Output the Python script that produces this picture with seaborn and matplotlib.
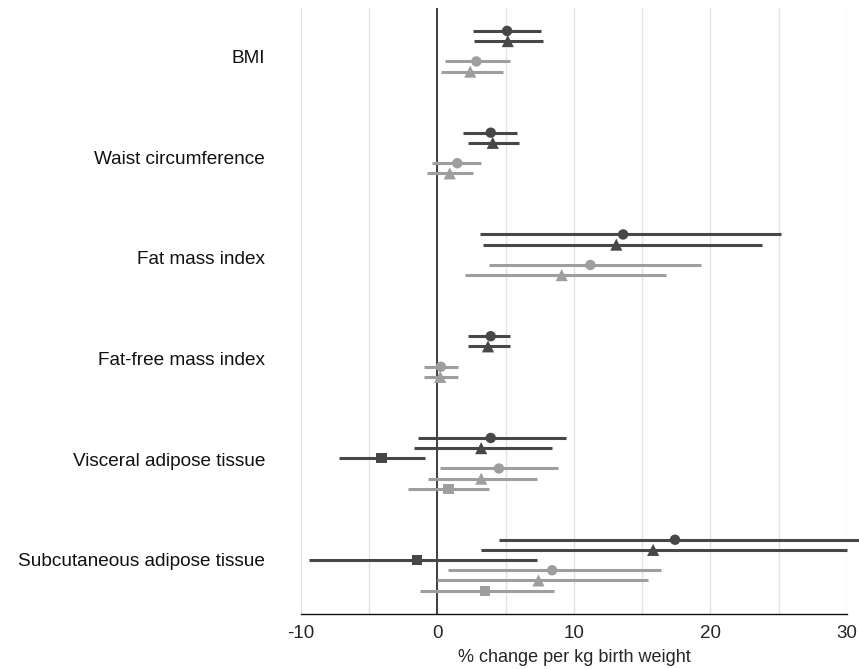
import matplotlib
matplotlib.use("Agg")
import matplotlib.pyplot as plt
import seaborn as sns
import numpy as np
import pandas as pd

nan = np.nan

# Data

outcomes = [
    "BMI",
    "Waist circumference",
    "Fat mass index",
    "Fat-free mass index",
    "Visceral adipose tissue",
    "Subcutaneous adipose tissue",
]

dark_circle_est = [5.1, 3.9, 13.6, 3.9, 3.9, 17.4]
dark_circle_lo = [2.6, 1.85, 3.1, 2.25, -1.45, 4.5]
dark_circle_hi = [7.6, 5.85, 25.2, 5.3, 9.4, 31.5]

dark_tri_est = [5.15, 4.05, 13.1, 3.7, 3.2, 15.8]
dark_tri_lo = [2.7, 2.2, 3.3, 2.25, -1.75, 3.2]
dark_tri_hi = [7.7, 5.95, 23.75, 5.3, 8.4, 30.0]

dark_sq_est = [nan, nan, nan, nan, -4.1, -1.5]
dark_sq_lo = [nan, nan, nan, nan, -7.2, -9.4]
dark_sq_hi = [nan, nan, nan, nan, -0.9, 7.3]

light_circle_est = [2.85, 1.45, 11.2, 0.25, 4.5, 8.4]
light_circle_lo = [0.55, -0.4, 3.8, -1.0, 0.15, 0.8]
light_circle_hi = [5.3, 3.2, 19.3, 1.5, 8.85, 16.4]

light_tri_est = [2.4, 0.9, 9.1, 0.2, 3.2, 7.4]
light_tri_lo = [0.25, -0.75, 2.0, -1.0, -0.7, -0.05]
light_tri_hi = [4.8, 2.6, 16.75, 1.5, 7.3, 15.45]

light_sq_est = [nan, nan, nan, nan, 0.8, 3.5]
light_sq_lo = [nan, nan, nan, nan, -2.15, -1.3]
light_sq_hi = [nan, nan, nan, nan, 3.8, 8.5]

x_ticks = [-10, 0, 10, 20, 30]

# Series table (slot = row inside each outcome block)

series = [
    ("dark", "circle", dark_circle_est, dark_circle_lo, dark_circle_hi),
    ("dark", "triangle", dark_tri_est, dark_tri_lo, dark_tri_hi),
    ("dark", "square", dark_sq_est, dark_sq_lo, dark_sq_hi),
    ("light", "circle", light_circle_est, light_circle_lo, light_circle_hi),
    ("light", "triangle", light_tri_est, light_tri_lo, light_tri_hi),
    ("light", "square", light_sq_est, light_sq_lo, light_sq_hi),
]

rows = []
for slot, (shade, shape, est, lo, hi) in enumerate(series):
    for g, name in enumerate(outcomes):
        rows.append({
            "outcome": name,
            "group": g,
            "slot": slot,
            "shade": shade,
            "shape": shape,
            "est": est[g],
            "lo": lo[g],
            "hi": hi[g],
        })

df = pd.DataFrame(rows).dropna()
df["y"] = df["group"] * 10 + df["slot"]

# Style

sns.set_style("white")
plt.rcParams["font.family"] = ["Liberation Sans", "DejaVu Sans"]

colors = {"dark": "#474747", "light": "#9e9e9e"}
markers = {"circle": "o", "triangle": "^", "square": "s"}
sizes = {"circle": 56, "triangle": 76, "square": 54}

fig = plt.figure(figsize=(8.59, 6.69), dpi=100)
ax = fig.add_axes([0.3504, 0.0822, 0.6356, 0.9058])

# Grid and zero line

for gx in np.arange(-10, 31, 5):
    ax.axvline(gx, color="#e3e3e3", lw=1.0, zorder=0)
ax.axvline(0, color="#222222", lw=1.2, zorder=1)

# Confidence intervals

for shade in ["dark", "light"]:
    sub = df[df["shade"] == shade]
    ax.hlines(
        sub["y"],
        sub["lo"],
        sub["hi"],
        color=colors[shade],
        lw=2.2,
        zorder=2,
        clip_on=False
    )

# Point estimates

for shape in ["circle", "triangle", "square"]:
    sub = df[df["shape"] == shape]
    sns.scatterplot(
        data=sub,
        x="est",
        y="y",
        hue="shade",
        palette=colors,
        marker=markers[shape],
        s=sizes[shape],
        linewidth=0,
        legend=False,
        zorder=3,
        ax=ax
    )

# Axes

ax.set_xlim(-10, 30)
ax.set_ylim(57.3, -2.25)

label_pos = [2.55 + 9.88 * g for g in range(len(outcomes))]
ax.set_yticks(label_pos)
ax.set_yticklabels(outcomes, fontsize=13.7, color="#111111")
ax.tick_params(axis="y", length=0, pad=26)

ax.set_xticks(x_ticks)
ax.set_xticklabels(
    [str(t) for t in x_ticks],
    family=["Liberation Sans Narrow", "Liberation Sans", "DejaVu Sans"],
    fontsize=13.5
)
ax.tick_params(axis="x", length=5, width=1.0, color="#111111", pad=3)

ax.set_xlabel(
    "% change per kg birth weight",
    family=["Liberation Sans Narrow", "Liberation Sans", "DejaVu Sans"],
    fontsize=13,
    labelpad=5
)
ax.set_ylabel("")

for side in ["left", "right", "top"]:
    ax.spines[side].set_visible(False)
ax.spines["bottom"].set_color("#111111")
ax.spines["bottom"].set_linewidth(1.0)

plt.savefig("out.png", dpi=100)
